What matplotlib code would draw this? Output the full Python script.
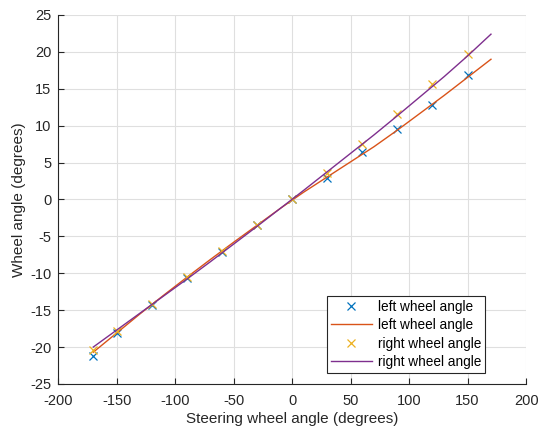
import numpy as np
import matplotlib.pyplot as plt

plt.rcParams['font.family'] = ['Liberation Sans', 'DejaVu Sans']
plt.rcParams['axes.unicode_minus'] = False

# measured points
steer_pts = [-170, -150, -120, -90, -60, -30, 0, 30, 60, 90, 120, 150]
left_pts = [-21.2, -18.1, -14.3, -10.7, -7.1, -3.45, 0, 2.87, 6.4, 9.5, 12.85, 16.8]
right_pts = [-20.4, -17.8, -14.2, -10.5, -7.0, -3.4, 0, 3.55, 7.5, 11.6, 15.6, 19.7]

# fitted curves
steer_fit = [-170, -150, -130, -110, -90, -70, -50, -30, -10, 10, 30, 50, 70, 90, 110, 130, 150, 170]
left_fit = [-20.7, -18.1, -15.5, -13.0, -10.55, -8.15, -5.8, -3.5, -1.2, 1.0, 3.05, 5.1,
            7.15, 9.4, 11.75, 14.1, 16.55, 19.0]
right_fit = [-20.0, -17.7, -15.4, -13.1, -10.8, -8.45, -6.05, -3.65, -1.2, 1.25, 3.75, 6.25,
             8.75, 11.35, 14.0, 16.65, 19.45, 22.4]

c_blue = '#0072BD'
c_orange = '#D95319'
c_yellow = '#EDB120'
c_purple = '#7E2F8E'

fig = plt.figure(figsize=(5.39, 4.28), dpi=100)
ax = fig.add_axes([0.108, 0.103, 0.868, 0.862])

ax.plot(steer_pts, left_pts, 'x', color=c_blue, markersize=5.5, mew=0.9, label='left wheel angle')
ax.plot(steer_fit, left_fit, '-', color=c_orange, lw=1.0, label='left wheel angle')
ax.plot(steer_pts, right_pts, 'x', color=c_yellow, markersize=5.5, mew=0.9, label='right wheel angle')
ax.plot(steer_fit, right_fit, '-', color=c_purple, lw=1.0, label='right wheel angle')

ax.set_xlim(-200, 200)
ax.set_ylim(-25, 25)
ax.set_xticks(np.arange(-200, 201, 50))
ax.set_yticks(np.arange(-25, 26, 5))
ax.grid(True, color='#dfdfdf', lw=0.8)
ax.set_axisbelow(True)
for s in ['top', 'right']:
    ax.spines[s].set_visible(False)
for s in ['left', 'bottom']:
    ax.spines[s].set_color('#262626')
    ax.spines[s].set_linewidth(0.8)
ax.tick_params(direction='in', length=4, width=0.8, color='#262626',
               labelcolor='#262626', labelsize=10.5)
ax.tick_params(axis='x', pad=7)
ax.tick_params(axis='y', pad=5)

ax.set_xlabel('Steering wheel angle (degrees)', fontsize=11, color='#262626', labelpad=3)
ax.set_ylabel('Wheel angle (degrees)', fontsize=11, color='#262626', labelpad=3)

leg = ax.legend(loc='lower right', bbox_to_anchor=(0.922, 0.018), fontsize=9.8,
                fancybox=False, framealpha=1, edgecolor='#262626',
                handlelength=3.0, borderpad=0.3, labelspacing=0.33, handletextpad=0.45,
                borderaxespad=0.3)
leg.get_frame().set_linewidth(0.8)

fig.savefig('out.png', dpi=100)
